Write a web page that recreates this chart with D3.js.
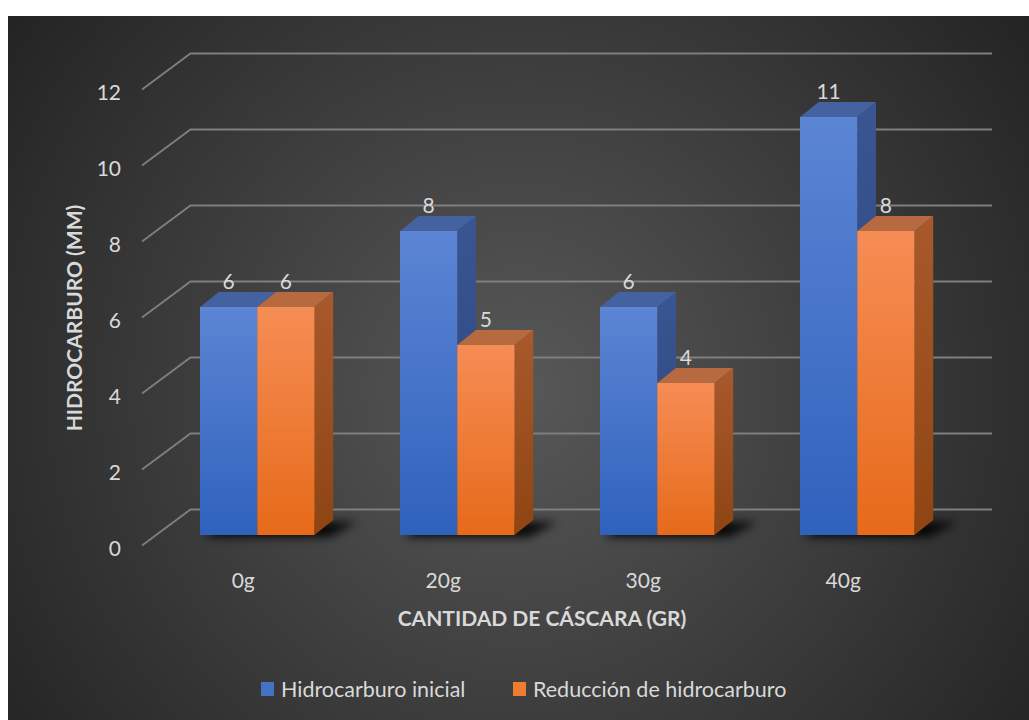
<!DOCTYPE html>
<meta charset="utf-8">
<script src="https://d3js.org/d3.v7.min.js"></script>
<style>
  body { margin: 0; background: #fff; }
  text { font-family: Lato, "Open Sans", sans-serif; fill: #d9d9d9; }
</style>
<div id="chart"></div>
<script>

// data
var categories = ["0g", "20g", "30g", "40g"];
var seriesNames = ["Hidrocarburo inicial", "Reducción de hidrocarburo"];
var inicial = [6, 8, 6, 11];
var reduccion = [6, 5, 4, 8];
var yTicks = [0, 2, 4, 6, 8, 10, 12];

var width = 1029, height = 720;

// 3d look: bar depth and floor depth offsets
var barDx = 18.7, barDy = -15;
var backShift = -25.5;          // bar front floor -> back wall
var frontShift = 10.5;          // bar front floor -> front edge of floor

var svg = d3.select("#chart")
  .append("svg")
    .attr("width", width)
    .attr("height", height);

var defs = svg.append("defs");

var bg = defs.append("radialGradient")
    .attr("id", "bg")
    .attr("gradientUnits", "userSpaceOnUse")
    .attr("cx", 520).attr("cy", 390).attr("r", 640);
bg.append("stop").attr("offset", "0%").attr("stop-color", "#585858");
bg.append("stop").attr("offset", "100%").attr("stop-color", "#232323");

function vGrad(id, top, bottom) {
  var g = defs.append("linearGradient").attr("id", id)
      .attr("x1", 0).attr("y1", 0).attr("x2", 0).attr("y2", 1);
  g.append("stop").attr("offset", "0%").attr("stop-color", top);
  g.append("stop").attr("offset", "100%").attr("stop-color", bottom);
}
vGrad("blueFront", "#5c85d4", "#2f62bd");
vGrad("blueSide", "#3a5692", "#28427a");
vGrad("orangeFront", "#f68d55", "#e66a19");
vGrad("orangeSide", "#a9592c", "#8e4512");

var colors = {
  front: ["url(#blueFront)", "url(#orangeFront)"],
  side: ["url(#blueSide)", "url(#orangeSide)"],
  top: ["#43629f", "#b76a3f"],
  key: ["#4472c4", "#ed7d31"]
};

defs.append("filter").attr("id", "blur")
    .attr("x", "-50%").attr("y", "-100%").attr("width", "200%").attr("height", "300%")
  .append("feGaussianBlur").attr("stdDeviation", 5);

svg.append("rect")
    .attr("x", 8).attr("y", 16)
    .attr("width", width - 8).attr("height", height - 16)
    .style("fill", "url(#bg)");

// scales
var x = d3.scaleBand()
    .domain(categories)
    .range([157.25, 957.25])
    .paddingInner(0.4275)
    .paddingOuter(0.21375);

var xs = d3.scaleBand()
    .domain(seriesNames)
    .range([0, x.bandwidth()]);

var y = d3.scaleLinear()
    .domain([0, 12])
    .range([535, 535 - 12 * 38]);

// gridlines: side wall diagonal + back wall
var grid = svg.append("g")
    .style("stroke", "#7f7f7f")
    .style("stroke-width", 1.8)
    .style("fill", "none");

grid.selectAll("path")
  .data(yTicks)
  .enter()
  .append("path")
    .attr("d", function(d) {
      return "M142," + (y(d) + frontShift) +
             "L190.5," + (y(d) + backShift) +
             "L992," + (y(d) + backShift);
    });

// tick labels
svg.append("g")
  .selectAll("text")
  .data(yTicks)
  .enter()
  .append("text")
    .attr("x", 121)
    .attr("y", function(d) { return y(d) + frontShift + 2; })
    .attr("text-anchor", "end")
    .attr("dominant-baseline", "central")
    .style("font-size", "21px")
    .text(function(d) { return d; });

// bars
var rows = categories.map(function(c, i) {
  return { cat: c, values: [inicial[i], reduccion[i]] };
});

var groups = svg.selectAll(".grp")
  .data(rows)
  .enter()
  .append("g")
    .attr("class", "grp");

// soft shadow on the floor
groups.append("path")
    .attr("d", function(d) {
      var x0 = x(d.cat) - 4, x1 = x(d.cat) + x.bandwidth() + 6, yb = y(0) + 2;
      return "M" + x0 + "," + yb + "L" + x1 + "," + yb +
             "L" + (x1 + barDx + 10) + "," + (yb + barDy) +
             "L" + (x0 + barDx) + "," + (yb + barDy) + "Z";
    })
    .attr("transform", "translate(8,0)")
    .style("fill", "#000")
    .style("opacity", 0.9)
    .attr("filter", "url(#blur)");

groups.each(function(d) {
  var g = d3.select(this);
  d.values.forEach(function(v, k) {
    var x0 = x(d.cat) + xs(seriesNames[k]);
    var x1 = x0 + xs.bandwidth();
    var y0 = y(0), y1 = y(v);
    // side face
    g.append("path")
      .attr("d", "M" + x1 + "," + y1 + "L" + (x1 + barDx) + "," + (y1 + barDy) +
                 "L" + (x1 + barDx) + "," + (y0 + barDy) + "L" + x1 + "," + y0 + "Z")
      .style("fill", colors.side[k]);
    // top face
    g.append("path")
      .attr("d", "M" + x0 + "," + y1 + "L" + x1 + "," + y1 +
                 "L" + (x1 + barDx) + "," + (y1 + barDy) +
                 "L" + (x0 + barDx) + "," + (y1 + barDy) + "Z")
      .style("fill", colors.top[k]);
    // front face
    g.append("rect")
      .attr("x", x0).attr("y", y1)
      .attr("width", xs.bandwidth()).attr("height", y0 - y1)
      .style("fill", colors.front[k]);
  });
});

// value labels
groups.each(function(d) {
  var g = d3.select(this);
  d.values.forEach(function(v, k) {
    g.append("text")
      .attr("x", x(d.cat) + xs(seriesNames[k]) + xs.bandwidth() / 2)
      .attr("y", y(v) + barDy - 3)
      .attr("text-anchor", "middle")
      .style("font-size", "21px")
      .text(v);
  });
});

// category labels
svg.append("g")
  .selectAll("text")
  .data(categories)
  .enter()
  .append("text")
    .attr("x", function(d) { return x(d) + x.bandwidth() / 2 - 14; })
    .attr("y", 579)
    .attr("text-anchor", "middle")
    .attr("dominant-baseline", "central")
    .style("font-size", "21px")
    .text(function(d) { return d; });

// axis titles
svg.append("text")
    .attr("x", 542)
    .attr("y", 617)
    .attr("text-anchor", "middle")
    .attr("dominant-baseline", "central")
    .style("font-size", "21px")
    .style("font-weight", "bold")
    .text("CANTIDAD DE CÁSCARA (GR)");

svg.append("text")
    .attr("transform", "translate(73,318) rotate(-90)")
    .attr("text-anchor", "middle")
    .attr("dominant-baseline", "central")
    .style("font-size", "21px")
    .style("font-weight", "bold")
    .text("HIDROCARBURO (MM)");

// legend
var legendX = [261, 513];
var legend = svg.selectAll(".leg")
  .data(seriesNames)
  .enter()
  .append("g")
    .attr("class", "leg")
    .attr("transform", function(d, i) { return "translate(" + legendX[i] + ",689)"; });

legend.append("rect")
    .attr("x", 0).attr("y", -7)
    .attr("width", 13).attr("height", 14)
    .style("fill", function(d, i) { return colors.key[i]; });

legend.append("text")
    .attr("x", 20)
    .attr("y", 0)
    .attr("dominant-baseline", "central")
    .style("font-size", "21.5px")
    .text(function(d) { return d; });

</script>
